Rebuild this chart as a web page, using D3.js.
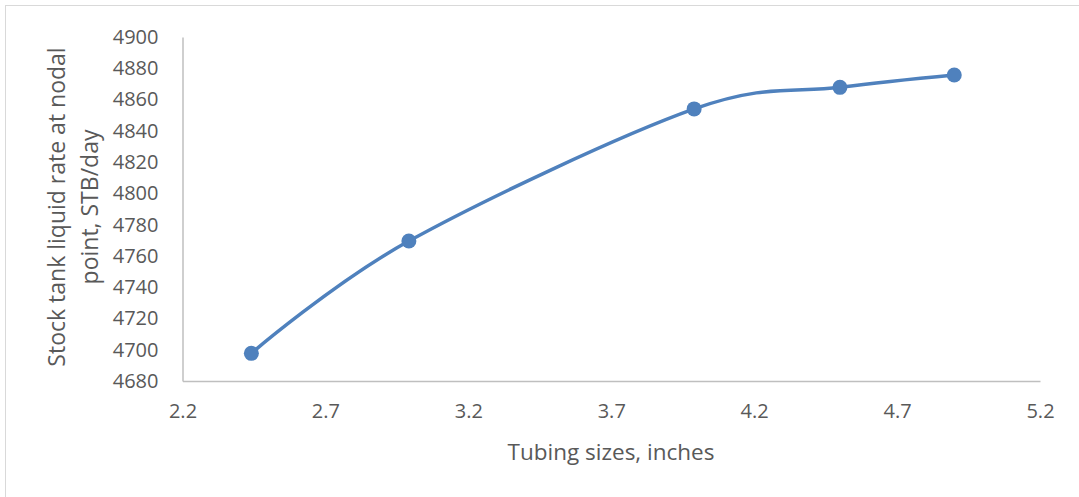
<!DOCTYPE html>
<html>
<head>
<meta charset="utf-8">
<title>Tubing sizes</title>
<script src="https://cdn.jsdelivr.net/npm/d3@7"></script>
<style>
  body { margin: 0; background: #fff; }
  text { font-family: "Open Sans", sans-serif; fill: #595959; }
</style>
</head>
<body>
<script>
// tubing size (in) vs stock tank liquid rate (STB/day)
var tubingSizes = [2.441, 2.992, 3.99, 4.5, 4.9];
var liquidRates = [4697.7, 4769.5, 4854, 4867.8, 4875.7];
var xTicks = [2.2, 2.7, 3.2, 3.7, 4.2, 4.7, 5.2];
var yTicks = [4680, 4700, 4720, 4740, 4760, 4780, 4800, 4820, 4840, 4860, 4880, 4900];

var w = 1079, h = 497;
var plotLeft = 182.5, plotRight = 1040, plotTop = 37, plotBottom = 381;

var svg = d3.select("body").append("svg")
    .attr("width", w)
    .attr("height", h);

// outer chart border
svg.append("rect")
    .attr("x", 5.5).attr("y", 5.5)
    .attr("width", w).attr("height", h)
    .attr("fill", "none")
    .attr("stroke", "#d9d9d9");

var xScale = d3.scaleLinear().domain([2.2, 5.2]).range([plotLeft, plotRight]);
var yScale = d3.scaleLinear().domain([4680, 4900]).range([plotBottom, plotTop]);

var xAxis = d3.axisBottom(xScale)
    .tickValues(xTicks)
    .tickSize(0)
    .tickPadding(23)
    .tickFormat(d3.format(".1f"));

var yAxis = d3.axisLeft(yScale)
    .tickValues(yTicks)
    .tickSize(0)
    .tickPadding(24)
    .tickFormat(d3.format("d"));

var gx = svg.append("g")
    .attr("transform", "translate(0," + plotBottom + ")")
    .call(xAxis);
var gy = svg.append("g")
    .attr("transform", "translate(" + plotLeft + ",0)")
    .call(yAxis);

[gx, gy].forEach(function(g) {
    g.select(".domain").attr("stroke", "#bfbfbf").attr("stroke-width", 1.5);
    g.selectAll("text")
        .attr("font-family", "Open Sans, sans-serif")
        .attr("font-size", "20px")
        .attr("fill", "#595959");
});

var pts = tubingSizes.map(function(x, i) { return {x: x, y: liquidRates[i]}; });

var line = d3.line()
    .x(function(d) { return xScale(d.x); })
    .y(function(d) { return yScale(d.y); })
    .curve(d3.curveCatmullRom.alpha(0));

svg.append("path")
    .attr("d", line(pts))
    .attr("fill", "none")
    .attr("stroke", "#4f81bd")
    .attr("stroke-width", 3.5)
    .attr("stroke-linecap", "round");

svg.selectAll("circle.pt")
    .data(pts)
    .enter().append("circle")
    .attr("class", "pt")
    .attr("cx", function(d) { return xScale(d.x); })
    .attr("cy", function(d) { return yScale(d.y); })
    .attr("r", 7.5)
    .attr("fill", "#4f81bd");

// axis titles
svg.append("text")
    .text("Tubing sizes, inches")
    .attr("x", 611)
    .attr("y", 460)
    .attr("text-anchor", "middle")
    .attr("font-size", "22.5px");

var yt = svg.append("text")
    .attr("transform", "translate(0,207) rotate(-90)")
    .attr("text-anchor", "middle")
    .attr("font-size", "23px");
yt.append("tspan").attr("x", 0).attr("y", 65).text("Stock tank liquid rate at nodal");
yt.append("tspan").attr("x", 0).attr("y", 98).text("point, STB/day");
</script>
</body>
</html>
